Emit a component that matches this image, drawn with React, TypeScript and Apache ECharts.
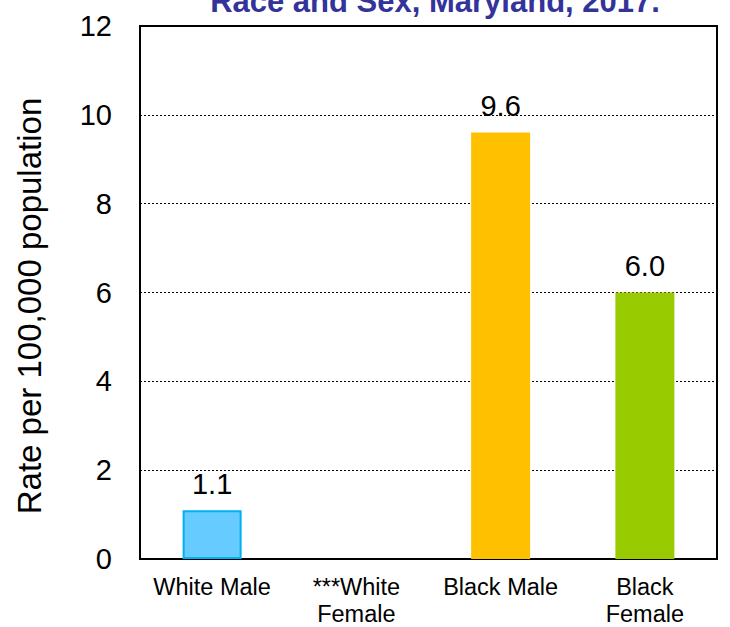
import React, { useEffect, useRef } from "react";
import * as echarts from "echarts";

const categories = ["White Male", "***White\nFemale", "Black Male", "Black\nFemale"];
const values: (number | null)[] = [1.1, null, 9.6, 6.0];
const barColors = ["#66ccff", "#ffffff", "#ffc000", "#99cc00"];
const barBorders = ["#00b0f0", "#ffffff", "#ffc000", "#99cc00"];
const titleText = "Race and Sex, Maryland, 2017.";
const yAxisName = "Rate per 100,000 population";

export default function App() {
  const ref = useRef<HTMLDivElement>(null);
  useEffect(() => {
    if (!ref.current) return;
    const chart = echarts.init(ref.current, null, { renderer: "svg" });
    const font = "Liberation Sans, Arial, sans-serif";
    chart.setOption({
      animation: false,
      backgroundColor: "#ffffff",
      textStyle: { fontFamily: font },
      graphic: [
        {
          type: "text",
          x: 435,
          y: -14,
          style: {
            text: titleText,
            fill: "#333399",
            font: "bold 31px Liberation Sans, Arial, sans-serif",
            textAlign: "center",
            textVerticalAlign: "top",
          },
        },
        {
          type: "text",
          x: 29,
          y: 306,
          rotation: Math.PI / 2,
          style: {
            text: yAxisName,
            fill: "#000",
            font: "33px Liberation Sans, Arial, sans-serif",
            textAlign: "center",
            textVerticalAlign: "middle",
          },
        },
      ],
      grid: {
        left: 140,
        right: 13,
        top: 26,
        bottom: 61,
        show: true,
        borderColor: "#000000",
        borderWidth: 2,
        backgroundColor: "transparent",
      },
      xAxis: {
        type: "category",
        data: categories,
        axisLine: { show: true, lineStyle: { color: "#000", width: 2 } },
        axisTick: { show: false },
        axisLabel: {
          color: "#000",
          fontSize: 23.5,
          lineHeight: 27,
          margin: 14,
          interval: 0,
          fontFamily: font,
        },
      },
      yAxis: {
        type: "value",
        min: 0,
        max: 12,
        interval: 2,
        axisLine: { show: true, lineStyle: { color: "#000", width: 2 } },
        axisTick: { show: false },
        axisLabel: { color: "#000", fontSize: 29, margin: 28, fontFamily: font },
        splitLine: {
          show: true,
          lineStyle: { color: "#000", type: [2, 2], width: 1 },
        },
      },
      series: [
        {
          type: "bar",
          barWidth: 59,
          data: values.map((v, i) => ({
            value: v,
            itemStyle: {
              color: barColors[i],
              borderColor: barBorders[i],
              borderWidth: i === 0 ? 2 : 0,
            },
          })),
          label: {
            show: true,
            position: "top",
            distance: 12,
            color: "#000",
            fontSize: 29,
            fontFamily: font,
            formatter: (p: any) => (p.value == null ? "" : Number(p.value).toFixed(1)),
          },
        },
      ],
    });
    return () => chart.dispose();
  }, []);
  return (
    <div
      ref={ref}
      style={{ position: "fixed", left: 0, top: 0, width: 730, height: 627 }}
    />
  );
}
